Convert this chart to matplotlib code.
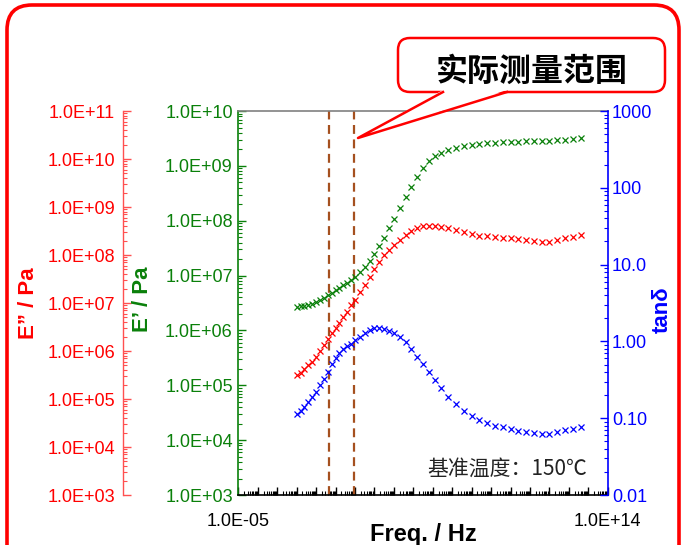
import numpy as np
import matplotlib
matplotlib.use("Agg")
import matplotlib.pyplot as plt
from matplotlib.patches import FancyBboxPatch, Polygon
from matplotlib.lines import Line2D
from matplotlib.ticker import FixedLocator, FuncFormatter, NullFormatter

plt.rcParams["font.family"] = ["Liberation Sans", "DejaVu Sans"]
CJK = ["Noto Sans CJK SC", "Liberation Sans"]

# 主曲线数据 (log10 值, 从图上读取)
log_freq = [-2.0, -1.8, -1.6, -1.4, -1.2, -1.0, -0.8, -0.6, -0.4, -0.2,
            0.0, 0.2, 0.4, 0.6, 0.8, 1.0, 1.25, 1.5, 1.75, 2.0,
            2.25, 2.5, 2.75, 3.0, 3.3, 3.6, 3.9, 4.2, 4.5, 4.8,
            5.1, 5.4, 5.8, 6.2, 6.6, 7.0, 7.4, 7.8, 8.2, 8.6,
            9.0, 9.4, 9.8, 10.2, 10.6, 11.0, 11.4, 11.8, 12.2, 12.65]
log_storage = [6.42, 6.44, 6.45, 6.47, 6.49, 6.52, 6.55, 6.60, 6.64, 6.69,
               6.73, 6.77, 6.82, 6.87, 6.92, 6.98, 7.06, 7.16, 7.27, 7.40,
               7.54, 7.69, 7.86, 8.03, 8.23, 8.43, 8.62, 8.80, 8.96, 9.08,
               9.18, 9.24, 9.29, 9.33, 9.36, 9.38, 9.40, 9.41, 9.42, 9.43,
               9.44, 9.44, 9.45, 9.45, 9.46, 9.46, 9.47, 9.48, 9.49, 9.50]
log_loss = [5.50, 5.55, 5.62, 5.70, 5.78, 5.88, 6.00, 6.13, 6.26, 6.37,
            6.48, 6.59, 6.70, 6.82, 6.95, 7.07, 7.22, 7.38, 7.54, 7.71,
            7.86, 8.00, 8.11, 8.21, 8.31, 8.42, 8.50, 8.56, 8.60, 8.61,
            8.61, 8.59, 8.56, 8.52, 8.47, 8.44, 8.40, 8.39, 8.37, 8.36,
            8.35, 8.33, 8.31, 8.30, 8.28, 8.28, 8.32, 8.36, 8.38, 8.42]
log_tand = [-0.94, -0.90, -0.85, -0.79, -0.73, -0.66, -0.57, -0.49, -0.40, -0.29,
            -0.21, -0.15, -0.10, -0.06, -0.03, 0.02, 0.06, 0.11, 0.15, 0.17,
            0.17, 0.16, 0.14, 0.11, 0.06, -0.01, -0.10, -0.20, -0.30, -0.40,
            -0.50, -0.60, -0.72, -0.82, -0.90, -0.97, -1.02, -1.06, -1.10, -1.12,
            -1.14, -1.16, -1.18, -1.19, -1.20, -1.20, -1.18, -1.15, -1.14, -1.12]

# 实际测量范围 (Hz)
range_low = 0.44
range_high = 8.7

freq = 10 ** np.array(log_freq)
storage = 10 ** np.array(log_storage)
loss = 10 ** np.array(log_loss)
tand = 10 ** np.array(log_tand)

c_red = "#ff0000"
c_green = "#0a800a"
c_blue = "#0000ff"


def sci_label(v, pos):
    e = int(round(np.log10(v)))
    return f"1.0E{e:+03d}"


def x_label(v, pos):
    e = int(round(np.log10(v)))
    if e in (-5, 14):
        return f"1.0E{e:+03d}"
    return ""


tand_labels = {-2: "0.01", -1: "0.10", 0: "1.00", 1: "10.0", 2: "100", 3: "1000"}


def tand_label(v, pos):
    return tand_labels.get(int(round(np.log10(v))), "")


def decade_locators(lo, hi):
    # 只在可见范围内放刻度
    major = [10.0 ** e for e in range(lo, hi + 1)]
    minor = [s * 10.0 ** e for e in range(lo, hi) for s in range(2, 10)]
    return FixedLocator(major), FixedLocator(minor)


fig = plt.figure(figsize=(6.84, 5.45), dpi=100)
ax = fig.add_axes([0.3484, 0.0917, 0.5401, 0.7046])
ax_red = ax.twinx()
ax_blue = ax.twinx()

# E' (绿色, 主轴)
ax.plot(freq, storage, "x", color=c_green, ms=4.3, mew=0.9, zorder=3)
ax.set_xscale("log")
ax.set_yscale("log")
ax.set_xlim(1e-5, 1e14)
ax.set_ylim(1e3, 1e10)
mj, mn = decade_locators(-5, 14)
ax.xaxis.set_major_locator(mj)
ax.xaxis.set_minor_locator(mn)
ax.xaxis.set_major_formatter(FuncFormatter(x_label))
ax.xaxis.set_minor_formatter(NullFormatter())
mj, mn = decade_locators(3, 10)
ax.yaxis.set_major_locator(mj)
ax.yaxis.set_minor_locator(mn)
ax.yaxis.set_major_formatter(FuncFormatter(sci_label))
ax.yaxis.set_minor_formatter(NullFormatter())
ax.tick_params(axis="x", which="both", direction="in", colors="black", labelsize=13, pad=13)
ax.tick_params(axis="x", which="major", length=6, width=1)
ax.tick_params(axis="x", which="minor", length=3, width=0.8)
ax.tick_params(axis="y", which="both", direction="in", colors=c_green, labelsize=13, pad=4)
ax.tick_params(axis="y", which="major", length=6, width=1)
ax.tick_params(axis="y", which="minor", length=3, width=0.8)
ax.spines["left"].set_color(c_green)
ax.spines["left"].set_linewidth(1.2)
ax.spines["bottom"].set_color("black")
ax.spines["bottom"].set_linewidth(1.2)
ax.spines["top"].set_color("#808080")
ax.spines["top"].set_linewidth(1.2)
ax.spines["right"].set_visible(False)

for xv in (range_low, range_high):
    ax.axvline(xv, color="#a5501f", lw=1.6, ls=(0, (4, 2.5)), zorder=2)

# E'' (红色, 左侧外移轴)
ax_red.plot(freq, loss, "x", color=c_red, ms=4.3, mew=0.9, zorder=3)
ax_red.set_yscale("log")
ax_red.set_ylim(1e3, 1e11)
ax_red.yaxis.tick_left()
ax_red.spines["left"].set_position(("axes", -0.311))
ax_red.spines["left"].set_visible(True)
ax_red.spines["left"].set_color("#ff5050")
ax_red.spines["left"].set_linewidth(1.0)
for s in ("right", "top", "bottom"):
    ax_red.spines[s].set_visible(False)
mj, mn = decade_locators(3, 11)
ax_red.yaxis.set_major_locator(mj)
ax_red.yaxis.set_minor_locator(mn)
ax_red.yaxis.set_major_formatter(FuncFormatter(sci_label))
ax_red.yaxis.set_minor_formatter(NullFormatter())
ax_red.tick_params(axis="y", which="both", direction="in", colors="#ff5050",
                   labelcolor=c_red, labelsize=13, pad=6)
ax_red.tick_params(axis="y", which="major", length=6, width=1)
ax_red.tick_params(axis="y", which="minor", length=3, width=0.8)

# tanδ (蓝色, 右轴)
ax_blue.plot(freq, tand, "x", color=c_blue, ms=4.3, mew=0.9, zorder=3)
ax_blue.set_yscale("log")
ax_blue.set_ylim(1e-2, 1e3)
for s in ("left", "top", "bottom"):
    ax_blue.spines[s].set_visible(False)
ax_blue.spines["right"].set_color(c_blue)
ax_blue.spines["right"].set_linewidth(1.2)
mj, mn = decade_locators(-2, 3)
ax_blue.yaxis.set_major_locator(mj)
ax_blue.yaxis.set_minor_locator(mn)
ax_blue.yaxis.set_major_formatter(FuncFormatter(tand_label))
ax_blue.yaxis.set_minor_formatter(NullFormatter())
ax_blue.tick_params(axis="y", which="both", direction="in", colors=c_blue, labelsize=13, pad=3)
ax_blue.tick_params(axis="y", which="major", length=6, width=1)
ax_blue.tick_params(axis="y", which="minor", length=3, width=0.8)

# 轴标题
fig.text(0.041, 0.444, "E” / Pa", color=c_red, fontsize=16, fontweight="bold",
         rotation=90, ha="center", va="center")
fig.text(0.209, 0.45, "E’ / Pa", color=c_green, fontsize=16, fontweight="bold",
         rotation=90, ha="center", va="center")
fig.text(0.968, 0.431, "tanδ", color=c_blue, fontsize=16, fontweight="bold",
         rotation=90, ha="center", va="center")
fig.text(0.619, 0.02, "Freq. / Hz", color="black", fontsize=17, fontweight="bold",
         ha="center", va="center")
fig.text(0.858, 1 - 469 / 545, "基准温度：150℃", family=CJK, color="#222222",
         fontsize=15, ha="right", va="center")

# 外框
inch = fig.dpi_scale_trans
fig.patches.append(FancyBboxPatch((0.07, -0.4), 6.72, 5.80,
                                  boxstyle="round,pad=0,rounding_size=0.25",
                                  transform=inch, fill=False, edgecolor="#ff0000",
                                  lw=2.6, zorder=1))

# 标注框
fig.patches.append(FancyBboxPatch((3.98, 4.53), 2.67, 0.54,
                                  boxstyle="round,pad=0,rounding_size=0.12",
                                  transform=inch, facecolor="white",
                                  edgecolor="#ff0000", lw=1.8, zorder=4))
fig.patches.append(Polygon([(4.43, 4.55), (5.07, 4.55), (3.58, 4.07)], closed=True,
                           transform=inch, facecolor="white", edgecolor="none",
                           zorder=5))
fig.lines.append(Line2D([4.43, 3.58, 5.07], [4.53, 4.07, 4.53], transform=inch,
                        color="#ff0000", lw=1.8, zorder=6))
fig.text(5.317, 5.45 - 0.717, "实际测量范围", transform=inch, family=CJK,
         fontweight="heavy", fontsize=23, color="black", ha="center", va="center",
         zorder=7)

fig.savefig("out.png", dpi=100, facecolor="white")
